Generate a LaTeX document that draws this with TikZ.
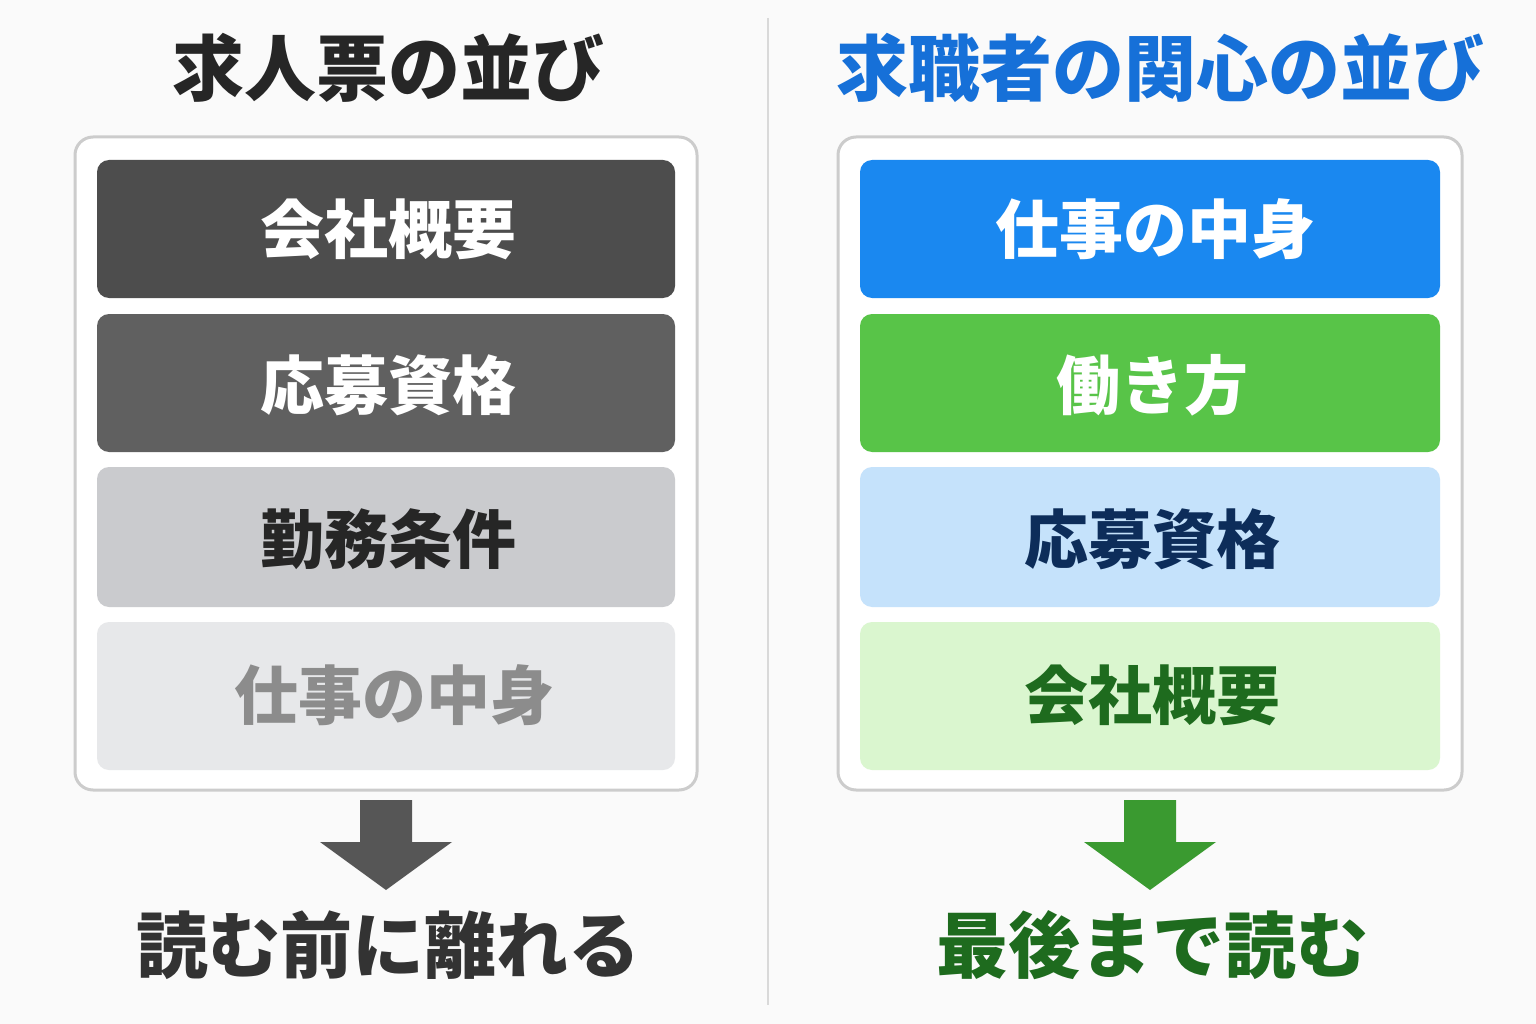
\documentclass[tikz,border=0pt]{standalone}
\usepackage{fontspec}
\newfontfamily\cjk{Noto Sans CJK JP}
\begin{document}
\begin{tikzpicture}[x=1pt,y=-1pt,
  bar/.style={rounded corners=12pt,draw=none},
  panel/.style={rounded corners=18pt,draw=black!20,line width=3pt,fill=white},
  lab/.style={font=\cjk\bfseries\fontsize{64}{70}\selectfont},
  ttl/.style={font=\cjk\bfseries\fontsize{72}{80}\selectfont},
  arr/.style={draw=none}]
\definecolor{bg}{HTML}{FAFAFA}
\definecolor{dk1}{HTML}{4D4D4D}\definecolor{dk2}{HTML}{606060}
\definecolor{lg1}{HTML}{CACBCE}\definecolor{lg2}{HTML}{E7E8EA}
\definecolor{bl}{HTML}{1A88F0}\definecolor{gr}{HTML}{58C448}
\definecolor{lb}{HTML}{C5E2FB}\definecolor{lgr}{HTML}{DAF6CF}
\definecolor{navy}{HTML}{0D2D5A}\definecolor{dgr}{HTML}{1E6B1E}
\definecolor{ttlblue}{HTML}{1670D8}\definecolor{agr}{HTML}{3A9A30}
\useasboundingbox (0,0) rectangle (1536,1024);
\fill[bg] (0,0) rectangle (1536,1024);
\draw[black!15,line width=2pt] (768,18) -- (768,1005);
% left
\node[ttl,text=black!85] (tl) at (388,68) {求人票の並び};
\draw[panel] (75,137) rectangle (697,790);
\fill[bar,dk1] (97,160) rectangle (675,298);
\fill[bar,dk2] (97,314) rectangle (675,452);
\fill[bar,lg1] (97,467) rectangle (675,607);
\fill[bar,lg2] (97,622) rectangle (675,770);
\node[lab,text=white] (l1) at (388,229) {会社概要};
\node[lab,text=white] (l2) at (388,385) {応募資格};
\node[lab,text=black!85] (l3) at (388,539) {勤務条件};
\node[lab,text=black!45] (l4) at (394,695) {仕事の中身};
\fill[dk1!95] (360,800) -- (412,800) -- (412,842) -- (452,842) -- (386,890) -- (320,842) -- (360,842) -- cycle;
\node[ttl,text=black!80] (bl1) at (388,945) {読む前に離れる};
% right
\node[ttl,text=ttlblue] (tr) at (1160,68) {求職者の関心の並び};
\draw[panel] (838,137) rectangle (1462,790);
\fill[bar,bl] (860,160) rectangle (1440,298);
\fill[bar,gr] (860,314) rectangle (1440,452);
\fill[bar,lb] (860,467) rectangle (1440,607);
\fill[bar,lgr] (860,622) rectangle (1440,770);
\node[lab,text=white] (r1) at (1155,229) {仕事の中身};
\node[lab,text=white] (r2) at (1152,385) {働き方};
\node[lab,text=navy] (r3) at (1152,539) {応募資格};
\node[lab,text=dgr] (r4) at (1152,695) {会社概要};
\fill[agr] (1124,800) -- (1176,800) -- (1176,842) -- (1216,842) -- (1150,890) -- (1084,842) -- (1124,842) -- cycle;
\node[ttl,text=dgr] (br1) at (1152,945) {最後まで読む};
\end{tikzpicture}
\end{document}
